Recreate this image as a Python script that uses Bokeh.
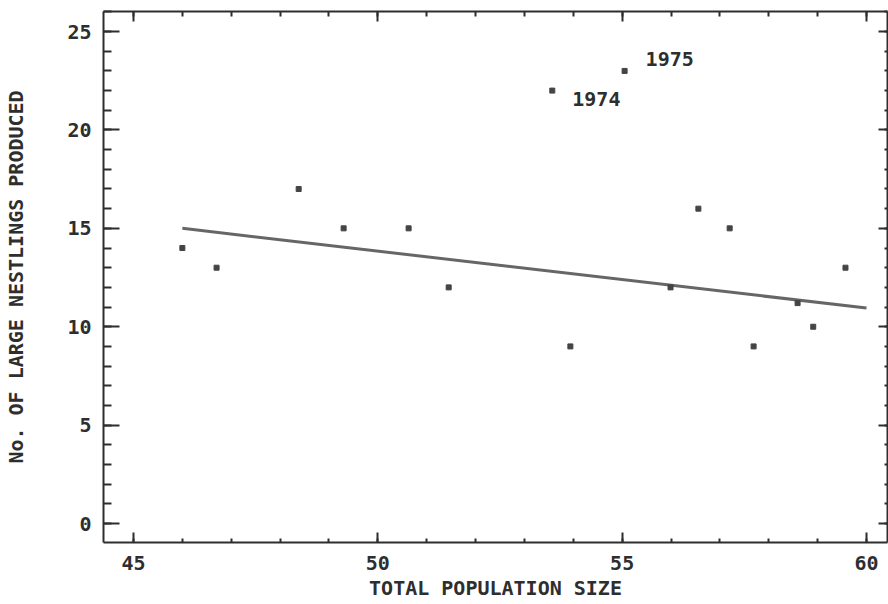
from bokeh.plotting import figure
from bokeh.models import (Range1d, LinearAxis, SingleIntervalTicker,
                          CustomJSTickFormatter, ColumnDataSource)
from bokeh.embed import file_html
from bokeh.resources import INLINE
from bokeh.core.properties import value

# --- data ---
pop_size = [46.0, 46.7, 48.38, 49.3, 50.63, 51.45, 53.57, 53.94, 55.05,
            55.99, 56.56, 57.2, 57.69, 58.59, 58.91, 59.57]
nestlings = [14, 13, 17, 15, 15, 12, 22, 9, 23, 12, 16, 15, 9, 11.2, 10, 13]

fit_x = [46.0, 60.0]
fit_y = [15.0, 10.95]

label_text = ["1974", "1975"]
label_x = [53.57, 55.05]
label_y = [22, 23]

x_title = "TOTAL POPULATION SIZE"
y_title = "No. OF LARGE NESTLINGS PRODUCED"

FONT = "DejaVu Sans Mono"
INK = "#2e2e2e"
FS = "20px"

p = figure(width=888, height=604, output_backend="svg", toolbar_location=None,
           x_range=Range1d(44.386, 60.43), y_range=Range1d(-0.965, 26.02),
           x_axis_type=None, y_axis_type=None,
           min_border_left=103, min_border_right=1, min_border_top=11,
           min_border_bottom=62)
p.outline_line_color = None
p.xgrid.visible = False
p.ygrid.visible = False
p.background_fill_color = "white"
p.border_fill_color = "white"


def make_axis(tick_in, minor_in, labelled):
    ticker = SingleIntervalTicker(interval=5, num_minor_ticks=5)
    ax = LinearAxis(ticker=ticker)
    ax.axis_line_color = INK
    ax.axis_line_width = 2
    ax.major_tick_line_color = INK
    ax.major_tick_line_width = 2
    ax.minor_tick_line_color = INK
    ax.minor_tick_line_width = 2
    ax.major_tick_in = tick_in
    ax.major_tick_out = 0
    ax.minor_tick_in = minor_in
    ax.minor_tick_out = 0
    ax.major_label_text_font = FONT
    ax.major_label_text_font_style = "bold"
    ax.major_label_text_font_size = FS
    ax.major_label_text_color = INK
    ax.axis_label_text_font = FONT
    ax.axis_label_text_font_style = "bold"
    ax.axis_label_text_font_size = FS
    ax.axis_label_text_color = INK
    if not labelled:
        ax.formatter = CustomJSTickFormatter(code="return ''")
        ax.major_label_standoff = 0
    return ax


xb = make_axis(10, 4, True)
xb.axis_label = x_title
xb.major_label_standoff = 13
xb.axis_label_standoff = 3
p.add_layout(xb, "below")

yl = make_axis(16, 8, True)
yl.axis_label = y_title
yl.major_label_standoff = 12
yl.axis_label_standoff = 36
yl.major_label_orientation = "horizontal"
p.add_layout(yl, "left")

xt = make_axis(10, 5, False)
p.add_layout(xt, "above")

yr = make_axis(9, 3, False)
p.add_layout(yr, "right")

# regression line
p.line(fit_x, fit_y, line_color="#666666", line_width=3)

# points
p.scatter(pop_size, nestlings, marker="square", size=5, color="#444444")

# year labels
src = ColumnDataSource(dict(x=label_x, y=label_y, t=label_text,
                            dx=[20, 21], dy=[8, -12]))
p.text(x="x", y="y", text="t", x_offset="dx", y_offset="dy", source=src,
       text_font=value(FONT), text_font_style="bold", text_font_size=FS,
       text_color=INK, text_baseline="middle", text_align="left")

open("out.html", "w").write(file_html(p, INLINE))
